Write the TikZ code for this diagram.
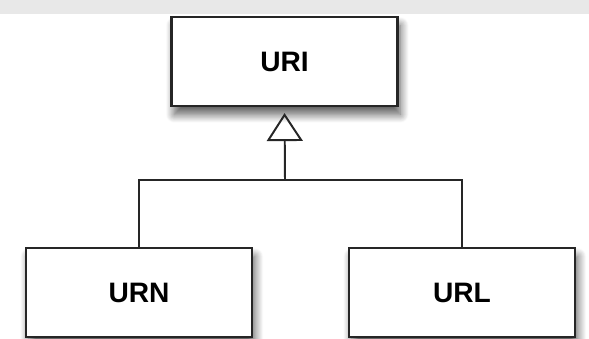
\documentclass[tikz,border=0pt]{standalone}
\usepackage{fontspec}
\setmainfont{Liberation Sans}
\usetikzlibrary{arrows.meta,shadows.blur}

\tikzset{
  classbox/.style={draw=black!85, line width=1.5pt, fill=white,
    minimum width=5.65cm, minimum height=2.225cm, inner sep=0pt,
    font=\fontsize{20}{23}\selectfont\bfseries,
    blur shadow={shadow xshift=2pt, shadow yshift=-6pt, shadow blur radius=6pt,
      shadow blur steps=12, shadow opacity=65}}
}

\begin{document}
\begin{tikzpicture}[x=0.025cm, y=-0.025cm]
    \useasboundingbox (0,0) rectangle (589,338);
    \fill[black!9] (0,0) rectangle (589,14);

    \node[classbox] (uri) at (284.5,61.5){URI};
    \node[classbox] (urn) at (139,292.5){URN};
    \node[classbox] (url) at (462,292.5){URL};

    \coordinate (split) at (285,180);
    \draw[line width=1.4pt, black!85, shorten >=0.15cm,
      -{Triangle[open, length=0.7cm, width=0.9cm, line width=1.4pt]}] (split) -- (uri.south);
    \draw[line width=1.4pt, black!85] (urn.north) |- (split) -| (url.north);
\end{tikzpicture}
\end{document}
